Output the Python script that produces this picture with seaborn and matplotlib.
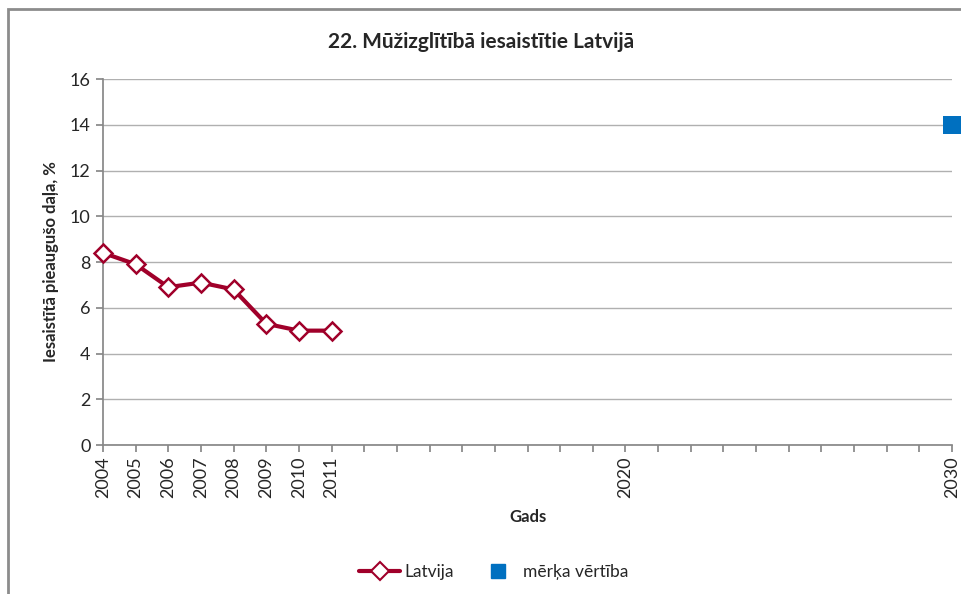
import pandas as pd
import matplotlib.pyplot as plt
import seaborn as sns
from matplotlib.patches import Rectangle
from matplotlib.lines import Line2D

years = [2004, 2005, 2006, 2007, 2008, 2009, 2010, 2011]
latvija = [8.4, 7.9, 6.9, 7.1, 6.8, 5.3, 5.0, 5.0]
target_year = [2030]
target_value = [14]
labelled_years = [2004, 2005, 2006, 2007, 2008, 2009, 2010, 2011, 2020, 2030]

sns.set_theme(style="white")
plt.rcParams["font.family"] = ["Lato", "DejaVu Sans"]

RED = "#A0002A"
BLUE = "#0070C0"

df = pd.DataFrame({"year": years, "value": latvija})
tg = pd.DataFrame({"year": target_year, "value": target_value})

fig = plt.figure(figsize=(9.62, 5.94), dpi=100)
ax = fig.add_axes([0.1071, 0.2508, 0.8825, 0.6162])

sns.lineplot(data=df, x="year", y="value", ax=ax, color=RED, linewidth=3,
             marker="D", markersize=9.5, markerfacecolor="white",
             markeredgecolor=RED, markeredgewidth=1.8, zorder=3, clip_on=False)
sns.scatterplot(data=tg, x="year", y="value", ax=ax, color=BLUE, marker="s",
                s=180, edgecolor=BLUE, linewidth=0, zorder=4, clip_on=False)

ax.set_xlim(2004, 2030)
ax.set_ylim(0, 16)
ax.set_yticks(range(0, 17, 2))
ax.set_xticks(range(2004, 2031))
ax.set_xticklabels([str(y) if y in labelled_years else "" for y in range(2004, 2031)],
                   rotation=90, fontsize=13)
ax.tick_params(axis="y", labelsize=13, length=5, color="#888888", left=True, pad=4)
ax.tick_params(axis="x", length=5, color="#888888", bottom=True, pad=3)
ax.yaxis.grid(True, color="#B0B0B0", linewidth=1)
ax.xaxis.grid(False)
for side in ["top", "right"]:
    ax.spines[side].set_visible(False)
ax.spines["left"].set_color("#888888")
ax.spines["bottom"].set_color("#888888")

ax.set_xlabel("Gads", fontsize=12, fontweight="bold", labelpad=8)
ax.set_ylabel("Iesaistītā pieaugušo daļa, %", fontsize=12, fontweight="bold", labelpad=8)
fig.text(0.5, 0.929, "22. Mūžizglītībā iesaistītie Latvijā", ha="center", va="center",
         fontsize=15, fontweight="bold")

handles = [
    Line2D([], [], color=RED, linewidth=3, marker="D", markersize=9,
           markerfacecolor="white", markeredgecolor=RED, markeredgewidth=1.5),
    Line2D([], [], color=BLUE, linestyle="none", marker="s", markersize=10),
]
fig.legend(handles, ["Latvija", "mērķa vērtība"], loc="center", ncol=2,
           bbox_to_anchor=(0.513, 0.037), frameon=False, fontsize=12.5,
           handlelength=2.4, handletextpad=0.25, columnspacing=1.3)

fig.patches.append(Rectangle((0.0085, -0.1), 1.2, 1.085, transform=fig.transFigure,
                             fill=False, edgecolor="#8C8C8C", linewidth=2))

fig.savefig("out.png", dpi=100)
